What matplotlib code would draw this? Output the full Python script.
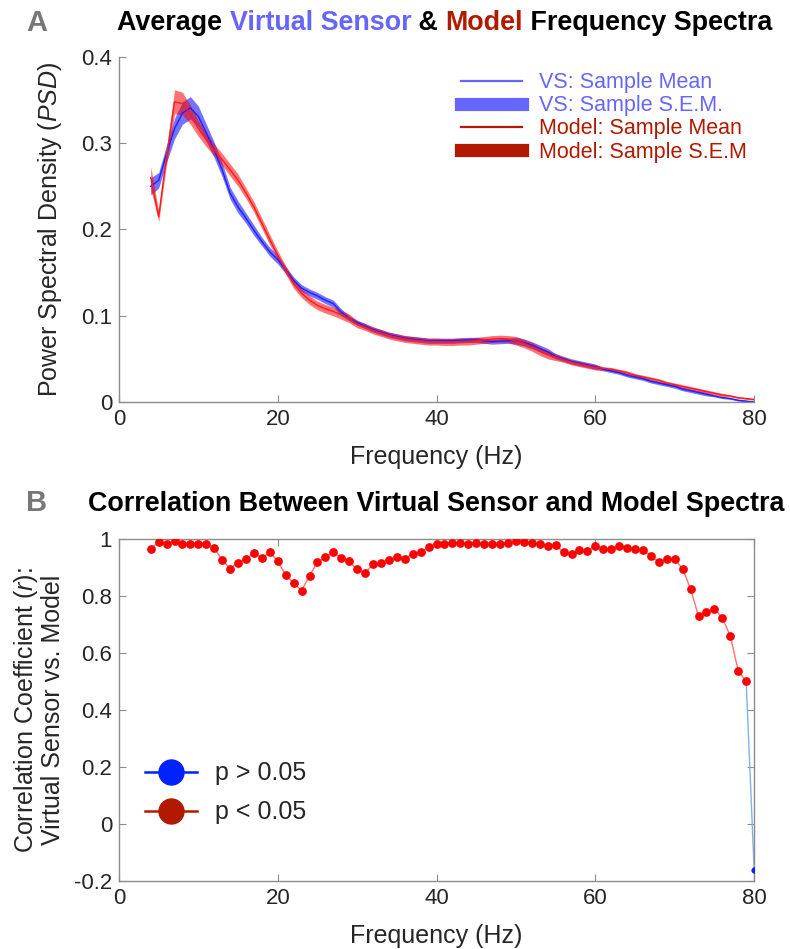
import matplotlib
matplotlib.use("Agg")
import matplotlib.pyplot as plt
from matplotlib.lines import Line2D

plt.rcParams["font.family"] = ["Liberation Sans", "DejaVu Sans"]
plt.rcParams["mathtext.fontset"] = "custom"
plt.rcParams["mathtext.it"] = "Liberation Sans:italic"
plt.rcParams["mathtext.rm"] = "Liberation Sans"
plt.rcParams["axes.unicode_minus"] = False

# ---- data ----
freqs = list(range(4, 81))

vs_mean = [0.250, 0.257, 0.288, 0.317, 0.335, 0.341, 0.331, 0.312, 0.292, 0.269,
           0.242, 0.226, 0.213, 0.199, 0.186, 0.174, 0.165, 0.153, 0.141, 0.132,
           0.127, 0.123, 0.118, 0.114, 0.104, 0.097, 0.092, 0.088, 0.084, 0.081,
           0.078, 0.076, 0.074, 0.073, 0.072, 0.071, 0.071, 0.071, 0.071, 0.0715,
           0.072, 0.072, 0.071, 0.070, 0.0705, 0.071, 0.071, 0.069, 0.066, 0.062,
           0.058, 0.053, 0.050, 0.047, 0.045, 0.043, 0.041, 0.038, 0.036, 0.034,
           0.031, 0.029, 0.027, 0.024, 0.022, 0.020, 0.018, 0.015, 0.013, 0.011,
           0.009, 0.007, 0.005, 0.004, 0.002, 0.001, 0.000]
vs_sem = [0.010, 0.009, 0.010, 0.012, 0.013, 0.013, 0.012, 0.010, 0.009, 0.008,
          0.007, 0.007, 0.006, 0.006, 0.005, 0.005, 0.005, 0.004, 0.004, 0.004,
          0.004, 0.004, 0.004, 0.004, 0.004, 0.003, 0.003, 0.003, 0.003, 0.003,
          0.003, 0.003, 0.003, 0.003, 0.003, 0.003, 0.003, 0.003, 0.003, 0.003,
          0.003, 0.003, 0.003, 0.003, 0.003, 0.003, 0.004, 0.004, 0.004, 0.004,
          0.004, 0.003, 0.003, 0.003, 0.003, 0.003, 0.003, 0.002, 0.002, 0.002,
          0.002, 0.002, 0.002, 0.002, 0.002, 0.002, 0.002, 0.002, 0.002, 0.002,
          0.002, 0.001, 0.001, 0.001, 0.001, 0.001, 0.001]

model_mean = [0.260, 0.215, 0.285, 0.348, 0.346, 0.333, 0.317, 0.304, 0.292, 0.281,
              0.269, 0.257, 0.242, 0.226, 0.207, 0.188, 0.170, 0.153, 0.137, 0.126,
              0.118, 0.112, 0.108, 0.105, 0.101, 0.097, 0.090, 0.087, 0.083, 0.080,
              0.077, 0.075, 0.073, 0.072, 0.071, 0.070, 0.070, 0.0695, 0.0695, 0.070,
              0.070, 0.071, 0.072, 0.073, 0.0735, 0.073, 0.071, 0.068, 0.064, 0.059,
              0.055, 0.052, 0.049, 0.046, 0.044, 0.042, 0.040, 0.039, 0.038, 0.036,
              0.034, 0.031, 0.029, 0.027, 0.025, 0.022, 0.020, 0.018, 0.016, 0.014,
              0.012, 0.010, 0.008, 0.007, 0.005, 0.004, 0.003]
model_sem = [0.013, 0.006, 0.009, 0.014, 0.013, 0.011, 0.009, 0.008, 0.007, 0.007,
             0.007, 0.007, 0.006, 0.006, 0.006, 0.006, 0.005, 0.005, 0.005, 0.005,
             0.005, 0.005, 0.005, 0.005, 0.005, 0.005, 0.004, 0.004, 0.004, 0.004,
             0.004, 0.004, 0.004, 0.004, 0.004, 0.004, 0.004, 0.004, 0.004, 0.004,
             0.004, 0.004, 0.004, 0.004, 0.004, 0.004, 0.005, 0.005, 0.005, 0.005,
             0.005, 0.004, 0.003, 0.003, 0.003, 0.003, 0.003, 0.002, 0.002, 0.002,
             0.002, 0.002, 0.002, 0.002, 0.002, 0.002, 0.002, 0.002, 0.002, 0.002,
             0.002, 0.002, 0.002, 0.001, 0.001, 0.001, 0.001]

corr_r = [0.966, 0.989, 0.983, 0.994, 0.982, 0.982, 0.983, 0.982, 0.967, 0.926,
          0.896, 0.917, 0.929, 0.951, 0.933, 0.953, 0.922, 0.873, 0.845, 0.819,
          0.871, 0.919, 0.936, 0.953, 0.934, 0.921, 0.893, 0.880, 0.911, 0.917,
          0.926, 0.935, 0.931, 0.947, 0.953, 0.971, 0.983, 0.983, 0.987, 0.985,
          0.983, 0.985, 0.983, 0.983, 0.983, 0.987, 0.994, 0.989, 0.984, 0.983,
          0.976, 0.978, 0.953, 0.948, 0.960, 0.957, 0.975, 0.964, 0.964, 0.976,
          0.967, 0.964, 0.960, 0.941, 0.918, 0.930, 0.928, 0.895, 0.824, 0.728,
          0.744, 0.755, 0.723, 0.659, 0.537, 0.500, -0.16]
nonsig_freqs = [80]

VS_LIGHT = "#6666ff"
MODEL_DARK = "#b21a00"
TXT = "#262626"
SPINE = "#8c8c8c"

fig = plt.figure(figsize=(7.9, 9.49), dpi=100)


def style_axes(ax, box):
    for s in ["left", "bottom", "top", "right"]:
        ax.spines[s].set_color(SPINE)
        ax.spines[s].set_linewidth(1.0)
    if not box:
        ax.spines["top"].set_visible(False)
        ax.spines["right"].set_visible(False)
    ax.tick_params(direction="in", length=5, color=SPINE, labelcolor=TXT,
                   labelsize=16, top=box, right=box, pad=5)


# ---- panel A ----
ax1 = fig.add_axes([0.1506, 0.5764, 0.804, 0.3636])
vs_lo = [m - s for m, s in zip(vs_mean, vs_sem)]
vs_hi = [m + s for m, s in zip(vs_mean, vs_sem)]
md_lo = [m - s for m, s in zip(model_mean, model_sem)]
md_hi = [m + s for m, s in zip(model_mean, model_sem)]
ax1.fill_between(freqs, vs_lo, vs_hi, color="#0000ff", alpha=0.55, lw=0)
ax1.fill_between(freqs, md_lo, md_hi, color="#ff0000", alpha=0.55, lw=0)
ax1.plot(freqs, vs_mean, color="#2020ff", lw=1.0)
ax1.plot(freqs, model_mean, color="#ff1a1a", lw=1.0)
ax1.set_xlim(0, 80)
ax1.set_ylim(0, 0.4)
ax1.set_xticks([0, 20, 40, 60, 80])
ax1.set_yticks([0, 0.1, 0.2, 0.3, 0.4])
ax1.set_yticklabels(["0", "0.1", "0.2", "0.3", "0.4"])
style_axes(ax1, box=False)
ax1.set_xlabel("Frequency (Hz)", fontsize=18, color=TXT, labelpad=11)
ax1.set_ylabel("Power Spectral Density ($\\it{PSD}$)", fontsize=18, color=TXT, labelpad=12)

handles1 = [Line2D([], [], color=VS_LIGHT, lw=1.6),
            Line2D([], [], color=VS_LIGHT, lw=9.5),
            Line2D([], [], color=MODEL_DARK, lw=1.6),
            Line2D([], [], color=MODEL_DARK, lw=9.5)]
labels1 = ["VS: Sample Mean", "VS: Sample S.E.M.",
           "Model: Sample Mean", "Model: Sample S.E.M"]
leg1 = ax1.legend(handles1, labels1, loc="upper right", frameon=False, fontsize=15.5,
                  handlelength=2.8, handletextpad=0.8, labelspacing=0.1,
                  bbox_to_anchor=(1.019, 1.012))
for t, c in zip(leg1.get_texts(), [VS_LIGHT, VS_LIGHT, MODEL_DARK, MODEL_DARK]):
    t.set_color(c)

# ---- panel B ----
ax2 = fig.add_axes([0.1506, 0.0717, 0.804, 0.3604])
for i in range(len(freqs) - 1):
    bad = freqs[i] in nonsig_freqs or freqs[i + 1] in nonsig_freqs
    ax2.plot(freqs[i:i + 2], corr_r[i:i + 2], color="#80b3e6" if bad else "#ff7070",
             lw=1.0, zorder=2)
sig_f = [f for f in freqs if f not in nonsig_freqs]
sig_r = [r for f, r in zip(freqs, corr_r) if f not in nonsig_freqs]
ns_f = [f for f in freqs if f in nonsig_freqs]
ns_r = [r for f, r in zip(freqs, corr_r) if f in nonsig_freqs]
ax2.plot(sig_f, sig_r, "o", color="#ff0000", ms=6.3, mec="none", zorder=3)
ax2.plot(ns_f, ns_r, "o", color="#0022ff", ms=4.5, mec="none", zorder=3)
ax2.set_xlim(0, 80)
ax2.set_ylim(-0.2, 1.0)
ax2.set_xticks([0, 20, 40, 60, 80])
ax2.set_yticks([-0.2, 0, 0.2, 0.4, 0.6, 0.8, 1.0])
ax2.set_yticklabels(["-0.2", "0", "0.2", "0.4", "0.6", "0.8", "1"])
style_axes(ax2, box=True)
ax2.set_xlabel("Frequency (Hz)", fontsize=18, color=TXT, labelpad=11)
ax2.set_ylabel("Correlation Coefficient ($\\it{r}$):\nVirtual Sensor vs. Model",
               fontsize=18, color=TXT, labelpad=6, linespacing=1.05)

handles2 = [Line2D([], [], color="#0022ff", marker="o", ms=18, lw=1.8),
            Line2D([], [], color=MODEL_DARK, marker="o", ms=18, lw=1.8)]
ax2.legend(handles2, ["p > 0.05", "p < 0.05"], loc="lower left", frameon=False,
           fontsize=18, handlelength=2.1, handletextpad=0.7, labelspacing=0.6,
           labelcolor=TXT, bbox_to_anchor=(0.005, 0.1))

# ---- titles ----
def colored_title(parts, x_px, y_px, size):
    fig.canvas.draw()
    rend = fig.canvas.get_renderer()
    x = x_px
    for s, c in parts:
        t = fig.text(x / 790, 1 - y_px / 949, s, color=c, fontsize=size,
                     fontweight="bold", ha="left", va="baseline")
        x += t.get_window_extent(rend).width


colored_title([("Average ", "black"), ("Virtual Sensor", VS_LIGHT), (" & ", "black"),
               ("Model", MODEL_DARK), (" Frequency Spectra", "black")], 117, 30, 19.4)
colored_title([("Correlation Between Virtual Sensor and Model Spectra", "black")],
              88, 511, 19.4)
fig.text(37 / 790, 1 - 31 / 949, "A", fontsize=21, fontweight="bold", color="#777777",
         ha="center", va="baseline")
fig.text(37 / 790, 1 - 511 / 949, "B", fontsize=21, fontweight="bold", color="#777777",
         ha="center", va="baseline")

fig.savefig("out.png", dpi=100)
